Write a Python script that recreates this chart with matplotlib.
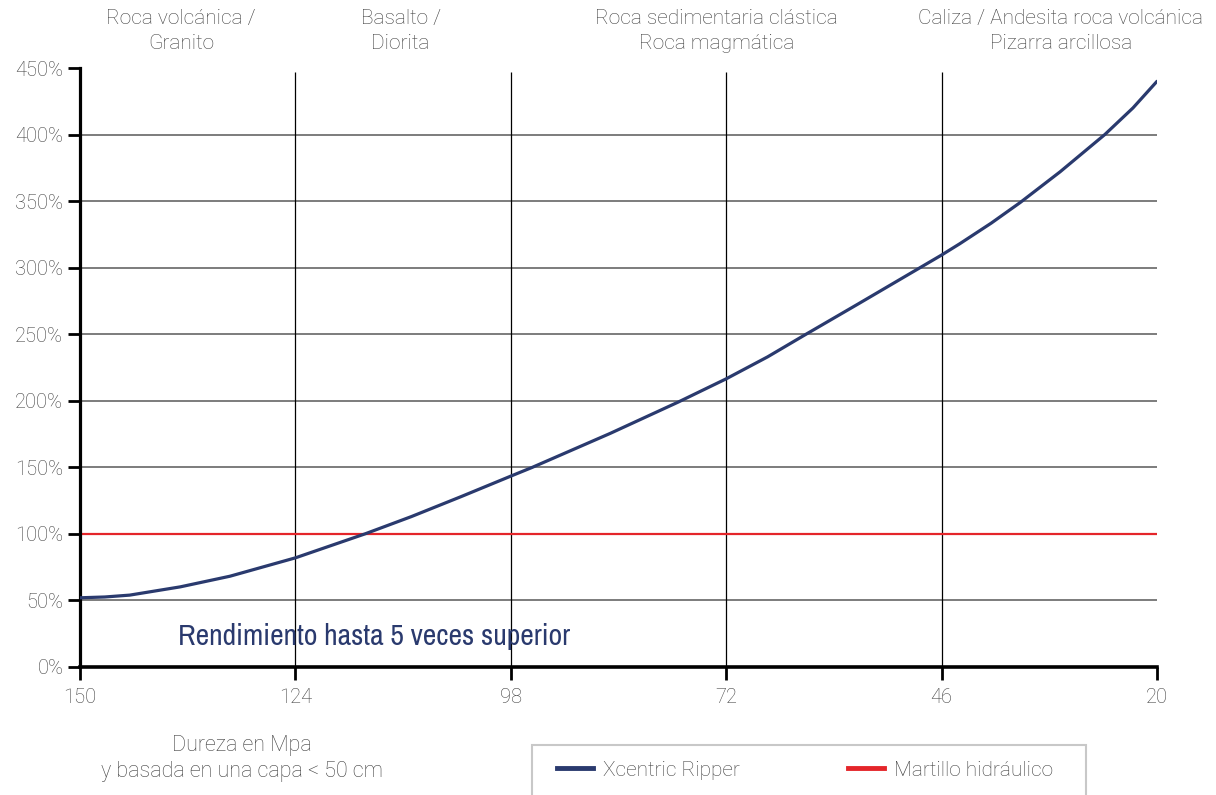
import matplotlib

matplotlib.use("Agg")
import matplotlib.pyplot as plt
from matplotlib.lines import Line2D
from matplotlib.patches import Rectangle

# values
hardness = [150, 147, 144, 137.9, 131.9, 124, 115.6, 110, 104, 98, 95.4, 86,
            77.8, 72, 67, 62.5, 56, 48.6, 46, 43.8, 40, 36.5, 31.7, 29, 26.3,
            22.9, 20]
ripper = [52, 52.6, 54, 60.2, 68.2, 82, 100, 113, 128, 143.4, 150, 175.5,
          199, 216.5, 233, 249.5, 273, 300, 309.5, 318, 333.5, 349, 372, 386,
          400, 420, 440]
hammer = 100

x_ticks = [150, 124, 98, 72, 46, 20]
y_ticks = [0, 50, 100, 150, 200, 250, 300, 350, 400, 450]
grid_y = [50, 150, 200, 250, 300, 350, 400]
grid_x = [124, 98, 72, 46]

rock_labels = ["Roca volcánica /\nGranito", "Basalto /\nDiorita",
               "Roca sedimentaria clástica\nRoca magmática",
               "Caliza / Andesita roca volcánica\nPizarra arcillosa"]
rock_label_x = [137.8, 111.3, 73.2, 31.6]

NAVY = "#2a3a6e"
RED = "#e4252a"
TEXT = "#404040"
FONT = ["Roboto", "DejaVu Sans"]

plt.rcParams["font.family"] = FONT

fig = plt.figure(figsize=(12.16, 7.95), dpi=100)
ax = fig.add_axes([80 / 1216, 128 / 795, 1077 / 1216, 599 / 795])
ax.set_xlim(150, 20)
ax.set_ylim(0, 450)

ax.hlines(grid_y, 150, 20, color="#666666", lw=1.2, zorder=1)
ax.vlines(grid_x, 0, 447, color="black", lw=0.9, zorder=1)
ax.axhline(hammer, color=RED, lw=1.6, zorder=2)
ax.plot(hardness, ripper, color=NAVY, lw=2.3, zorder=3, solid_capstyle="round")

for s in ("top", "right"):
    ax.spines[s].set_visible(False)
ax.spines["left"].set_linewidth(2.3)
ax.spines["bottom"].set_linewidth(2.6)

ax.set_xticks(x_ticks)
ax.set_xticklabels([str(v) for v in x_ticks])
ax.set_yticks(y_ticks)
ax.set_yticklabels([f"{v}%" for v in y_ticks])
ax.tick_params(axis="x", length=9, width=2, pad=6, labelsize=14.5, labelcolor=TEXT)
ax.tick_params(axis="y", length=9, width=2, pad=3, labelsize=14.5, labelcolor=TEXT)
for lab in ax.get_xticklabels() + ax.get_yticklabels():
    lab.set_fontweight("light")

for lbl, xv in zip(rock_labels, rock_label_x):
    ax.text(xv, 1.062, lbl, transform=ax.get_xaxis_transform(), ha="center",
            va="center", fontsize=15, color=TEXT, linespacing=1.42,
            fontweight="light")

ax.text(138.2, 16.5, "Rendimiento hasta 5 veces superior", color=NAVY,
        fontsize=21.4, family=["Archivo Narrow", "DejaVu Sans"],
        va="baseline", ha="left")

fig.text(242 / 1216, 1 - 758.5 / 795, "Dureza en Mpa\ny basada en una capa < 50 cm",
         ha="center", va="center", fontsize=15.5, color=TEXT, linespacing=1.25,
         fontweight="light")

# legend frame runs off the bottom edge, as in the reference
fig.patches.append(Rectangle((532 / 1216, -0.02), 554 / 1216, 1 - 745 / 795 + 0.02,
                             transform=fig.transFigure, fill=False,
                             edgecolor="#c8c8c8", lw=1.5))
handles = [Line2D([], [], color=NAVY, lw=3.5), Line2D([], [], color=RED, lw=3.5)]
leg = ax.legend(handles, ["Xcentric Ripper", "Martillo hidráulico"], ncol=2,
                loc="center left", bbox_to_anchor=(557 / 1216, 1 - 770 / 795),
                bbox_transform=fig.transFigure, frameon=False, borderpad=0,
                borderaxespad=0, handlelength=1.73, handletextpad=0.48,
                columnspacing=5.2, prop={"size": 15, "weight": "light"})
for t in leg.get_texts():
    t.set_color(TEXT)

fig.savefig("out.png", dpi=100)
